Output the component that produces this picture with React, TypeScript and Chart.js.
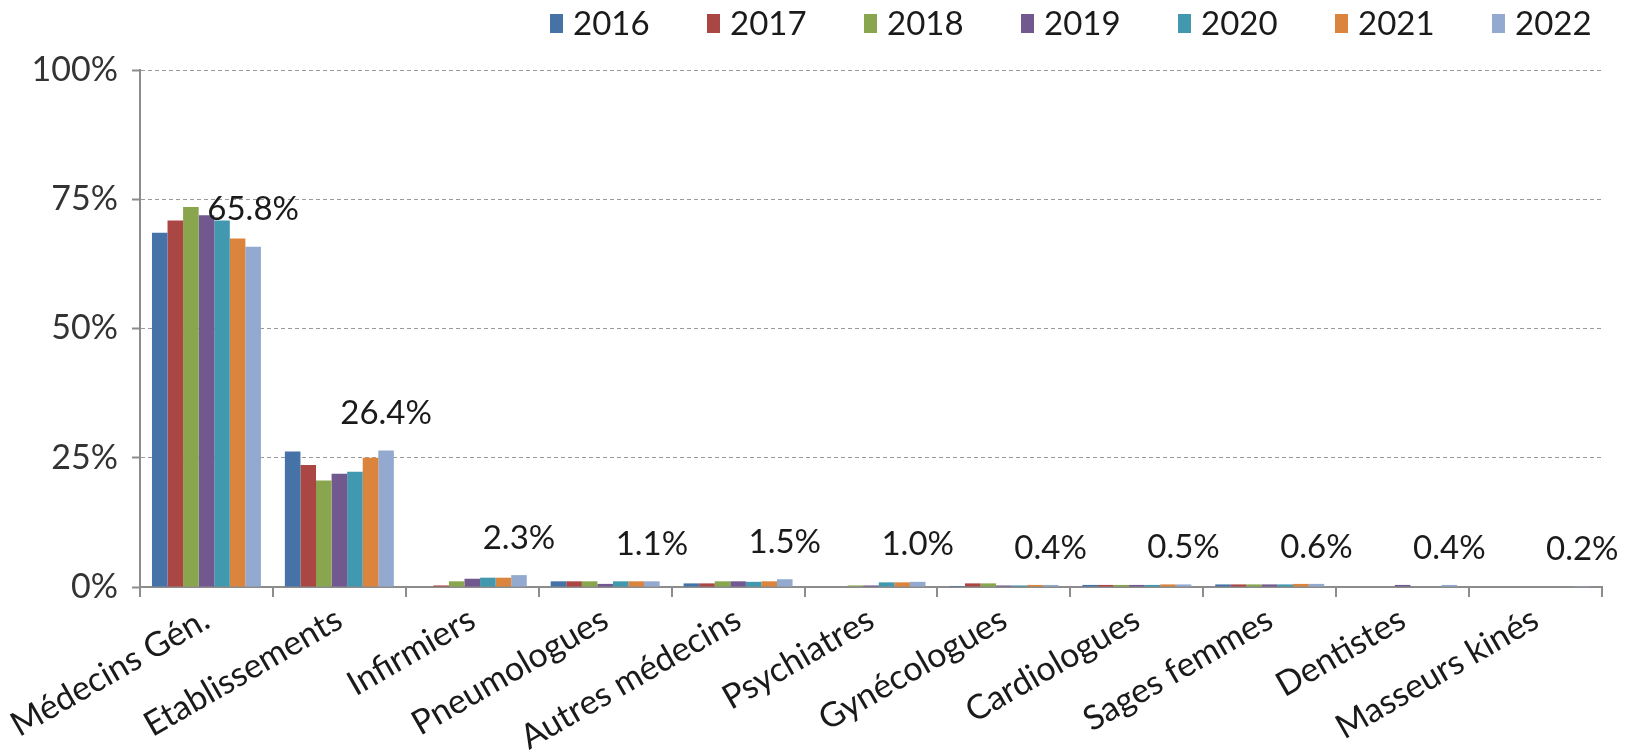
import React, { useEffect, useRef } from 'react';
import { Chart, registerables } from 'chart.js';

Chart.register(...registerables);

const categories = [
  'Médecins Gén.',
  'Etablissements',
  'Infirmiers',
  'Pneumologues',
  'Autres médecins',
  'Psychiatres',
  'Gynécologues',
  'Cardiologues',
  'Sages femmes',
  'Dentistes',
  'Masseurs kinés',
];

const years = ['2016', '2017', '2018', '2019', '2020', '2021', '2022'];

const y2016 = [68.5, 26.2, 0, 1.1, 0.7, 0, 0.2, 0.4, 0.5, 0, 0];
const y2017 = [70.9, 23.6, 0.3, 1.1, 0.7, 0, 0.7, 0.4, 0.5, 0, 0];
const y2018 = [73.5, 20.6, 1.1, 1.1, 1.1, 0.3, 0.7, 0.4, 0.5, 0, 0];
const y2019 = [71.9, 21.9, 1.6, 0.6, 1.1, 0.3, 0.3, 0.4, 0.5, 0.4, 0];
const y2020 = [70.9, 22.3, 1.8, 1.1, 1.0, 0.9, 0.3, 0.4, 0.5, 0, 0];
const y2021 = [67.4, 25.0, 1.8, 1.1, 1.1, 0.9, 0.4, 0.5, 0.6, 0, 0];
const y2022 = [65.8, 26.4, 2.3, 1.1, 1.5, 1.0, 0.4, 0.5, 0.6, 0.4, 0.2];

const yTicks = [0, 25, 50, 75, 100];

const colors = ['#4572A7', '#AA4643', '#89A54E', '#71588F', '#4198AF', '#DB843D', '#93A9CF'];

const FONT = 'Lato';

const legendPlugin = {
  id: 'topLegend',
  afterDraw(chart: any) {
    const ctx = chart.ctx;
    ctx.save();
    ctx.font = `33px ${FONT}`;
    ctx.textBaseline = 'middle';
    ctx.textAlign = 'left';
    chart.data.datasets.forEach((ds: any, i: number) => {
      const x = 550 + i * 157;
      ctx.fillStyle = ds.backgroundColor;
      ctx.fillRect(x, 14, 13, 19);
      ctx.fillStyle = '#1a1a1a';
      ctx.fillText(ds.label, x + 23, 24);
    });
    ctx.restore();
  },
};

const labelPlugin = {
  id: 'lastLabels',
  afterDatasetsDraw(chart: any) {
    const ctx = chart.ctx;
    const idx = chart.data.datasets.length - 1;
    const meta = chart.getDatasetMeta(idx);
    const data = chart.data.datasets[idx].data;
    ctx.save();
    ctx.font = `33px ${FONT}`;
    ctx.fillStyle = '#1a1a1a';
    ctx.textAlign = 'center';
    ctx.textBaseline = 'middle';
    meta.data.forEach((el: any, i: number) => {
      ctx.fillText(Number(data[i]).toFixed(1) + '%', el.x, el.y - 37);
    });
    ctx.restore();
  },
};

export default function App() {
  const ref = useRef<HTMLCanvasElement>(null);

  useEffect(() => {
    document.body.style.margin = '0';
    const series = [y2016, y2017, y2018, y2019, y2020, y2021, y2022];
    const chart = new Chart(ref.current as HTMLCanvasElement, {
      type: 'bar',
      data: {
        labels: categories,
        datasets: years.map((y, i) => ({
          label: y,
          data: series[i],
          backgroundColor: colors[i],
          borderWidth: 0,
          categoryPercentage: 0.82,
          barPercentage: 1,
        })),
      },
      options: {
        responsive: false,
        animation: false,
        devicePixelRatio: 1,
        layout: { padding: { top: 70, right: 24, left: 0, bottom: 0 } },
        plugins: {
          legend: { display: false },
          tooltip: { enabled: false },
        },
        scales: {
          x: {
            grid: {
              drawOnChartArea: false,
              drawTicks: true,
              tickLength: 10,
              color: '#8c8c8c',
              lineWidth: 2,
            },
            border: { color: '#8c8c8c', width: 2 },
            ticks: {
              autoSkip: false,
              minRotation: 30,
              maxRotation: 30,
              font: { family: FONT, size: 34 },
              color: '#1a1a1a',
              padding: 2,
            },
            afterFit: (s: any) => {
              s.height = 169;
            },
          },
          y: {
            min: 0,
            max: 100,
            afterBuildTicks: (s: any) => {
              s.ticks = yTicks.map((v) => ({ value: v }));
            },
            ticks: {
              callback: (v: any) => v + '%',
              font: { family: FONT, size: 34 },
              color: '#333333',
              padding: 14,
            },
            grid: {
              color: '#9a9a9a',
              lineWidth: 1,
              tickLength: 8,
              tickColor: '#8c8c8c',
              tickWidth: 2,
              tickBorderDash: [],
            },
            border: { color: '#8c8c8c', width: 2, dash: [4, 3] },
            afterFit: (s: any) => {
              s.width = 140;
            },
          },
        },
      },
      plugins: [legendPlugin, labelPlugin],
    });
    return () => chart.destroy();
  }, []);

  return <canvas ref={ref} width={1626} height={756} style={{ display: 'block' }} />;
}
